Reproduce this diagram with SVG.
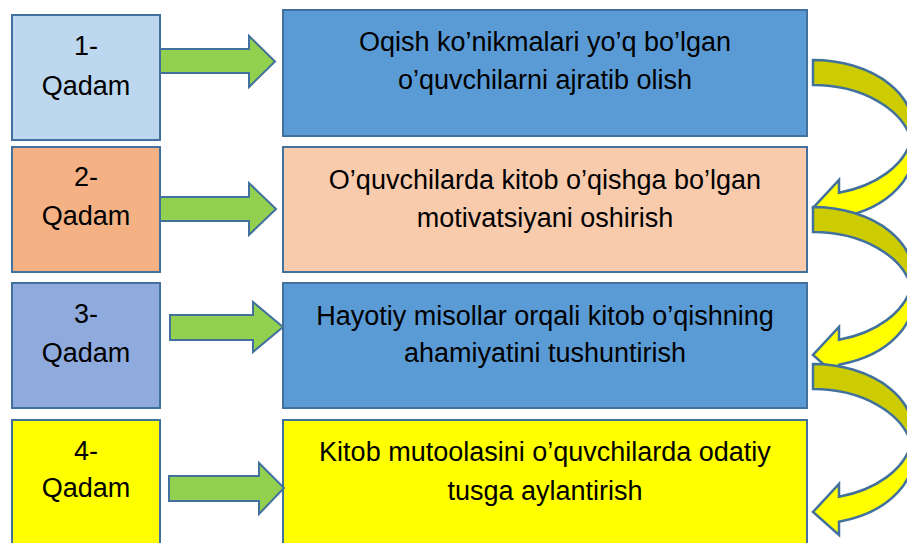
<svg xmlns="http://www.w3.org/2000/svg" width="907" height="543" viewBox="0 0 907 543">
<style>
.box{stroke:#41719C;stroke-width:2}
.t{font-family:"Liberation Sans",Arial,sans-serif;font-size:27px;fill:#000;text-anchor:middle}
.ga{fill:#92D050;stroke:#41719C;stroke-width:2;stroke-linejoin:miter}
.dk{fill:#CCCC00;stroke:#41719C;stroke-width:2.5;stroke-linejoin:miter}
.yl{fill:#FFFF00;stroke:#41719C;stroke-width:2.5;stroke-linejoin:miter}
</style>
<defs>
<g id="curve">
<path class="dk" d="M813,0 A100,67.5 0 0 1 911.27,80 A100,67.5 0 0 0 813,25 Z"/>
<path class="yl" d="M839,132.7 L839,120 L813,148 L839,171 L839,157.7 A100,67.5 0 0 0 911.27,80 A100,67.5 0 0 1 839,132.7 Z"/>
</g>
</defs>
<rect width="907" height="543" fill="#fff"/>
<g id="step1">
<rect class="box" x="12" y="15" width="148" height="125" fill="#BDD7EE"/>
<text class="t" x="86" y="55">1-</text>
<text class="t" x="86" y="95">Qadam</text>
</g>
<g id="task1">
<rect class="box" x="283" y="10" width="524" height="126" fill="#5B9BD5"/>
<text class="t" x="545" y="51">Oqish ko’nikmalari yo’q bo’lgan</text>
<text class="t" x="545" y="89">o’quvchilarni ajratib olish</text>
</g>
<g id="step2">
<rect class="box" x="12" y="147" width="148" height="125" fill="#F4B183"/>
<text class="t" x="86" y="186">2-</text>
<text class="t" x="86" y="225">Qadam</text>
</g>
<g id="task2">
<rect class="box" x="283" y="147" width="524" height="125" fill="#F8CBAD"/>
<text class="t" x="545" y="189">O’quvchilarda kitob o’qishga bo’lgan</text>
<text class="t" x="545" y="227">motivatsiyani oshirish</text>
</g>
<g id="step3">
<rect class="box" x="12" y="283" width="148" height="125" fill="#8FAADC"/>
<text class="t" x="86" y="323">3-</text>
<text class="t" x="86" y="362">Qadam</text>
</g>
<g id="task3">
<rect class="box" x="283" y="283" width="524" height="125" fill="#5B9BD5"/>
<text class="t" x="545" y="325">Hayotiy misollar orqali kitob o’qishning</text>
<text class="t" x="545" y="362">ahamiyatini tushuntirish</text>
</g>
<g id="step4">
<rect class="box" x="12" y="420" width="148" height="140" fill="#FFFF00"/>
<text class="t" x="86" y="460">4-</text>
<text class="t" x="86" y="497">Qadam</text>
</g>
<g id="task4">
<rect class="box" x="283" y="420" width="524" height="140" fill="#FFFF00"/>
<text class="t" x="545" y="461">Kitob mutoolasini o’quvchilarda odatiy</text>
<text class="t" x="545" y="500">tusga aylantirish</text>
</g>
<g id="connectors">
<path class="ga" d="M160,49 L249,49 L249,36 L275,61.5 L249,87 L249,73 L160,73 Z"/>
<path class="ga" d="M160,197 L249,197 L249,183 L276,209 L249,235 L249,221 L160,221 Z"/>
<path class="ga" d="M170,315 L253,315 L253,302 L283,327 L253,352 L253,340 L170,340 Z"/>
<path class="ga" d="M169,476 L259,476 L259,463 L284,488 L259,514 L259,501 L169,501 Z"/>
<use href="#curve" transform="translate(0,60)"/>
<use href="#curve" transform="translate(0,207)"/>
<use href="#curve" transform="translate(0,364)"/>
</g>
</svg>
